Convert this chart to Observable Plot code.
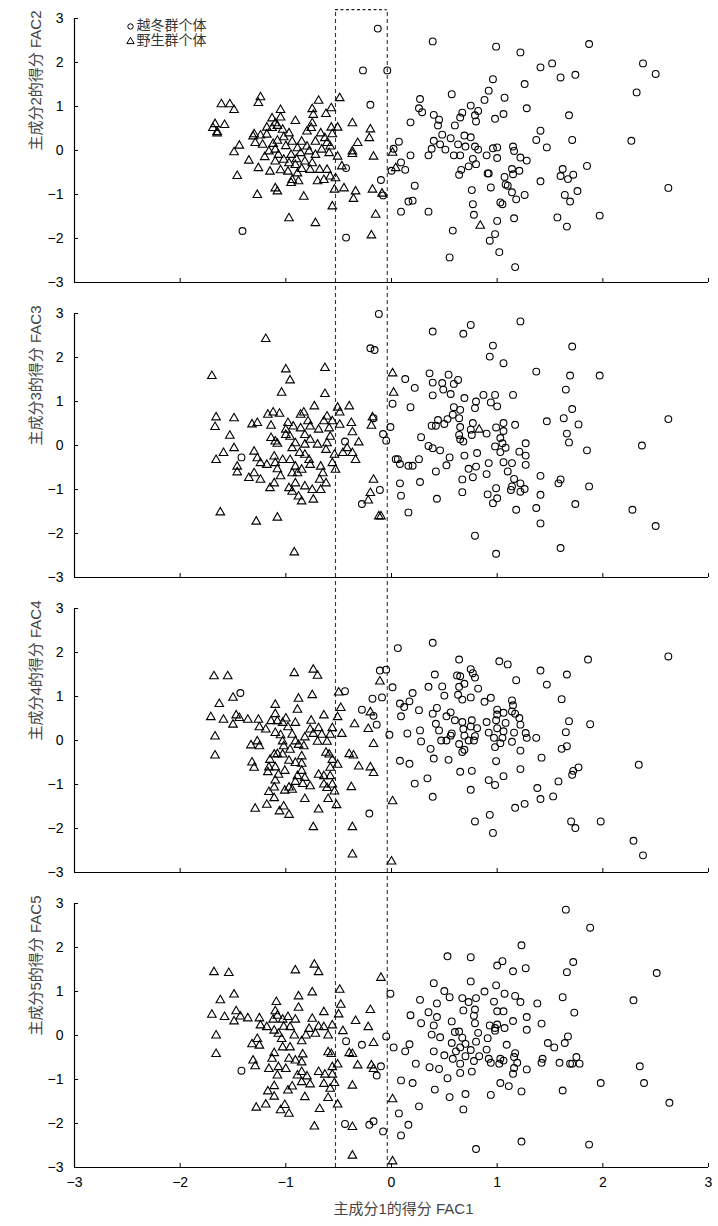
<!DOCTYPE html>
<html><head><meta charset="utf-8">
<script src="https://cdn.jsdelivr.net/npm/d3@7"></script>
<script src="https://cdn.jsdelivr.net/npm/@observablehq/plot@0.6"></script>
<style>body{margin:0;background:#fff}#chart svg{display:block}</style>
</head><body><div id="chart"></div>
<script>
const panels = ["FAC2", "FAC3", "FAC4", "FAC5"];
const yLabels = ["主成分2的得分 FAC2", "主成分3的得分 FAC3", "主成分4的得分 FAC4", "主成分5的得分 FAC5"];
const xLabel = "主成分1的得分 FAC1";
const legendLabels = ["越冬群个体", "野生群个体"];
const xTicks = [-3, -2, -1, 0, 1, 2, 3];
const yTicks = [-3, -2, -1, 0, 1, 2, 3];
const boxX = [-0.53, -0.04];
const boxTop = 3.2;

const fac2Circles = [[-0.20,1.04],[-0.43,-0.40],[-0.10,-0.67],[-0.08,-1.02],[-1.41,-1.83],[-0.43,-1.98],[0,-0.46],[-0.13,2.77],[-0.27,1.82],[-0.04,1.82],
[0.39,2.48],[0.99,2.36],[1.22,2.23],[1.87,2.42],[1.52,1.98],[1.41,1.89],[1.60,1.66],[1.74,1.72],[2.38,1.98],[2.50,1.74],[2.32,1.32],[0.96,1.62],[0.92,1.36],[0.88,1.15],[1.26,1.51],[1.07,1.20],[1.28,0.96],[0.57,1.28],[0.27,1.17],[0.26,0.96],[0.29,0.87],[0.18,0.64],[0.40,0.81],[0.45,0.70],[0.44,0.57],[0.60,0.57],[0.65,0.75],[0.67,0.86],[0.75,1.02],[0.82,0.90],[0.79,0.80],[0.80,0.66],[0.98,0.72],[1.06,0.83],[1.68,0.80],[1.41,0.45],[1.37,0.24],[1.47,0.07],[1.71,0.24],[2.27,0.22],[0.07,0.20],[0.02,0.04],[0.48,0.36],[0.40,0.22],[0.46,0.14],[0.38,0.04],[0.56,0.28],[0.51,0.02],[0.63,0.14],[0.70,0.09],[0.69,0.34],[0.75,0.30],[0.79,0.09],[0.82,0.02],[0.59,-0.11],[0.65,-0.11],[0.35,-0.11],[0.18,-0.11],[0.09,-0.27],[0.13,-0.44],[0.77,-0.19],[0.80,-0.31],[0.73,-0.36],[0.66,-0.44],[0.64,-0.55],[0.90,-0.11],[0.96,0.05],[1.00,0.07],[1.00,-0.17],[0.91,-0.52],[0.92,-0.52],[1.15,0.09],[1.16,-0.01],[1.22,-0.16],[1.28,-0.23],[1.21,-0.46],[1.14,-0.42],[1.15,-0.54],[1.07,-0.60],[1.08,-0.77],[1.10,-0.80],[1.14,-0.95],[1.18,-1.11],[1.26,-1.01],[1.41,-0.70],[1.62,-0.42],[1.60,-0.58],[1.67,-0.65],[1.72,-0.55],[1.85,-0.35],[1.64,-1.01],[1.69,-1.16],[1.76,-0.92],[2.62,-0.85],[1.97,-1.48],[1.57,-1.52],[1.66,-1.73],[1.16,-1.54],[1.00,-1.60],[0.98,-1.90],[0.93,-2.05],[1.02,-2.31],[1.17,-2.65],[0.55,-2.43],[0.58,-1.82],[0.76,-0.90],[0.77,-1.22],[0.78,-1.46],[0.94,-0.84],[1.03,-1.18],[1.05,-1.22],[0.35,-1.39],[0.22,-0.80],[0.16,-1.16],[0.20,-1.14],[0.09,-1.39]];
const fac2Triangles = [[-1.61,1.05],[-1.53,1.05],[-1.49,0.92],[-1.24,1.21],[-1.26,1.08],[-1.67,0.60],[-1.58,0.58],[-1.69,0.51],[-1.65,0.42],[-1.65,0.39],[-1.49,-0.04],[-1.44,0.11],[-1.35,-0.23],[-1.26,-0.40],[-1.46,-0.58],[-1.27,-1.01],[-1.15,-0.48],[-1.30,0.37],[-1.31,0.32],[-1.24,0.34],[-1.18,0.36],[-1.29,0.17],[-1.22,0.13],[-1.16,-0.02],[-1.13,0.73],[-1.05,0.92],[-1.05,0.75],[-1.10,0.62],[-1.08,0.56],[-1.13,0.51],[-1.18,0.52],[-1.03,0.47],[-0.97,0.39],[-1.02,0.30],[-0.94,0.20],[-1.08,0.22],[-1.10,0.02],[-1.07,-0.10],[-1.02,-0.21],[-1.10,-0.25],[-0.97,-0.29],[-0.98,-0.48],[-0.91,-0.33],[-0.94,-0.67],[-0.88,-0.70],[-0.95,-0.74],[-1.10,-0.86],[-1.08,-0.93],[-0.83,-1.05],[-0.97,-1.54],[-0.72,-1.65],[-0.91,0.67],[-0.85,0.20],[-0.89,0.05],[-0.86,-0.06],[-0.80,0.09],[-0.78,-0.02],[-0.82,-0.25],[-0.75,-0.29],[-0.85,-0.42],[-0.89,-0.52],[-0.77,-0.44],[-0.80,0.43],[-0.75,0.62],[-0.76,0.51],[-0.74,0.81],[-0.75,0.94],[-0.69,1.13],[-0.62,0.83],[-0.57,0.96],[-0.49,1.19],[-0.67,0.39],[-0.63,0.28],[-0.61,0.17],[-0.58,0.09],[-0.66,0.02],[-0.59,-0.06],[-0.51,-0.14],[-0.57,0.52],[-0.51,0.52],[-0.56,0.37],[-0.68,-0.44],[-0.61,-0.44],[-0.58,-0.59],[-0.64,-0.67],[-0.70,-0.70],[-0.53,-0.63],[-0.54,-0.89],[-0.56,-1.27],[-0.45,-0.86],[-0.47,-0.36],[-0.37,0.62],[-0.32,0.17],[-0.37,-0.02],[-0.37,-0.08],[-0.34,-0.93],[-0.36,-1.10],[-0.20,0.48],[-0.21,0.28],[-0.17,-0.14],[-0.18,-0.89],[-0.15,-1.46],[-0.19,-1.93],[0.01,-0.05],[0.04,-0.40],[0.84,-1.71],[-0.09,-0.98],[-1.00,0.10],[-0.95,-0.10],[-1.05,-0.45],[-0.90,-0.20],[-0.72,0.20],[-0.72,-0.10],[-1.20,-0.15],[-1.12,0.15]];

const fac3Circles = [[-0.20,2.21],[-0.16,2.17],[-1.42,-0.27],[-0.44,0.09],[-0.17,0.62],[-0.01,0.42],[-0.08,0.26],[-0.05,0.11],[0.01,0.95],[-0.11,-1.01],[-0.28,-1.33],[0.04,-0.31],[-0.12,2.99],
[0.39,2.59],[0.68,2.54],[0.75,2.74],[1.22,2.82],[0.96,2.27],[0.93,2.02],[1.06,1.87],[1.71,2.25],[1.37,1.68],[1.69,1.59],[1.97,1.59],[1.65,1.27],[1.71,0.83],[1.63,0.62],[1.77,0.48],[1.47,0.55],[1.66,0.27],[1.68,0.07],[1.85,-0.11],[2.62,0.60],[2.37,0.00],[2.28,-1.46],[2.50,-1.83],[1.87,-0.93],[1.74,-1.33],[1.60,-0.77],[1.58,-0.86],[1.60,-2.33],[1.41,-1.77],[1.37,-1.42],[1.41,-0.69],[1.41,-1.12],[1.18,-1.46],[0.99,-2.46],[0.79,-2.05],[0.13,1.51],[0.22,1.31],[0.18,0.87],[0.36,1.64],[0.39,1.43],[0.48,1.42],[0.54,1.61],[0.63,1.49],[0.59,1.40],[0.49,1.27],[0.39,1.14],[0.56,1.17],[0.69,1.08],[0.80,1.00],[0.87,1.15],[0.98,1.15],[0.94,0.98],[1.00,0.89],[1.15,1.15],[0.79,0.85],[0.59,0.87],[0.65,0.81],[0.58,0.70],[0.64,0.62],[0.53,0.60],[0.44,0.58],[0.50,0.49],[0.42,0.45],[0.38,0.45],[0.65,0.42],[0.77,0.51],[0.75,0.36],[0.76,0.24],[0.90,0.27],[0.64,0.24],[0.65,0.14],[0.68,0.09],[0.28,0.19],[0.99,0.41],[1.06,0.51],[1.06,0.33],[1.03,0.17],[1.05,0.05],[0.98,-0.02],[1.08,-0.05],[1.03,-0.15],[1.17,0.47],[1.27,0.05],[1.21,-0.14],[1.27,-0.23],[1.27,-0.44],[1.14,-0.40],[1.06,-0.38],[1.10,-0.59],[1.16,-0.76],[1.22,-0.86],[1.26,-0.99],[1.22,-1.05],[1.13,-1.01],[1.14,-0.93],[0.99,-0.97],[1.00,-1.20],[0.96,-1.31],[0.91,-1.11],[0.92,-0.40],[0.90,-0.65],[0.81,-0.17],[0.69,-0.23],[0.73,-0.53],[0.80,-0.48],[0.77,-0.72],[0.67,-0.77],[0.67,-1.06],[0.55,-0.27],[0.52,-0.45],[0.42,-0.59],[0.35,-0.01],[0.39,-0.06],[0.46,-0.11],[0.43,-1.21],[0.27,-0.83],[0.26,-0.31],[0.16,-0.46],[0.20,-0.46],[0.08,-0.42],[0.06,-0.31],[0.08,-0.86],[0.09,-1.14],[0.16,-1.52]];
const fac3Triangles = [[-1.19,2.42],[-1.70,1.58],[-1.00,1.73],[-0.96,1.48],[-1.04,1.20],[-0.63,1.76],[-0.63,1.17],[-0.73,0.89],[-0.51,0.86],[-0.40,0.89],[-1.66,0.64],[-1.49,0.62],[-1.67,0.42],[-1.53,0.22],[-1.49,-0.06],[-1.59,-0.17],[-1.66,-0.33],[-1.46,-0.48],[-1.46,-0.61],[-1.35,-0.74],[-1.32,0.48],[-1.27,0.51],[-1.17,0.70],[-1.12,0.75],[-1.06,0.72],[-1.14,0.45],[-1.30,-0.14],[-1.27,-0.29],[-1.24,-0.40],[-1.30,-0.63],[-1.24,-0.78],[-1.15,-0.97],[-1.11,-0.86],[-1.18,-0.44],[-1.10,0.09],[-1.14,0.17],[-1.08,0.04],[-1.11,-0.25],[-1.10,-0.40],[-1.08,-0.54],[-1.05,-0.70],[-1.03,-0.33],[-1.00,0.36],[-0.98,0.51],[-1.00,0.24],[-0.96,0.20],[-0.93,0.43],[-0.91,0.05],[-0.94,-0.06],[-0.96,-0.33],[-0.91,-0.48],[-0.94,-0.63],[-0.97,-0.97],[-0.94,-1.05],[-0.91,-0.86],[-0.88,-1.16],[-0.85,-1.27],[-0.74,-1.23],[-0.82,-0.93],[-0.75,-1.01],[-0.86,0.70],[-0.83,0.75],[-0.86,0.39],[-0.79,0.55],[-0.77,0.43],[-0.82,0.24],[-0.77,0.13],[-0.82,0.02],[-0.87,-0.17],[-0.82,-0.21],[-0.78,-0.33],[-0.77,-0.44],[-0.85,-0.55],[-0.89,-0.63],[-0.70,0.02],[-0.69,0.36],[-0.64,0.55],[-0.61,0.66],[-0.56,0.55],[-0.59,0.39],[-0.58,0.20],[-0.61,0.05],[-0.62,-0.10],[-0.67,-0.48],[-0.65,-0.63],[-0.68,-0.78],[-0.62,-0.86],[-0.67,-1.01],[-0.56,-0.40],[-0.53,-0.55],[-0.54,-0.21],[-0.49,0.47],[-0.49,0.75],[-0.46,-0.17],[-0.42,-0.06],[-0.38,0.51],[-0.37,0.30],[-0.37,-0.17],[-0.34,-0.33],[-0.31,0.07],[-0.18,0.64],[-0.19,0.45],[-0.17,-0.78],[-0.20,-1.08],[-0.22,-1.25],[-0.12,-1.61],[-1.62,-1.52],[-1.28,-1.73],[-1.08,-1.64],[-0.92,-2.43],[0.01,1.64],[0.02,1.20],[0.83,0.36],[-0.10,-1.61]];

const fac4Circles = [[-1.43,1.08],[-0.44,1.12],[-0.28,0.70],[-0.18,0.95],[-0.09,0.98],[-0.11,1.59],[-0.05,1.61],[-0.17,0.56],[-0.14,0.36],[-0.02,0.13],[0.01,1.21],[-0.21,-1.66],
[0.06,2.10],[0.39,2.22],[0.64,1.84],[1.02,1.80],[1.10,1.73],[1.41,1.59],[1.66,1.50],[1.86,1.84],[2.62,1.91],[0.41,1.50],[0.62,1.48],[0.65,1.46],[0.75,1.62],[0.77,1.53],[0.79,1.43],[0.69,1.29],[0.64,1.22],[0.63,1.04],[0.67,0.93],[0.75,0.98],[0.82,1.18],[0.48,1.23],[0.35,1.22],[0.50,1.02],[0.20,1.08],[0.17,0.89],[0.08,0.84],[0.12,0.76],[0.26,0.69],[0.09,0.55],[1.18,1.37],[1.47,1.27],[1.61,0.94],[0.94,0.97],[0.88,0.88],[1.14,0.91],[1.15,0.80],[1.00,0.70],[1.00,0.59],[1.06,0.63],[1.14,0.66],[1.17,0.61],[1.21,0.51],[0.99,0.46],[1.08,0.40],[1.22,0.36],[0.90,0.42],[1.00,0.28],[0.92,0.18],[1.06,0.21],[1.16,0.18],[1.27,0.17],[1.28,0.06],[1.37,0.06],[0.97,0.06],[1.05,0.06],[1.03,-0.06],[0.98,-0.15],[1.14,-0.03],[1.22,-0.23],[1.68,0.44],[1.88,0.37],[1.65,0.19],[1.66,-0.13],[1.61,-0.19],[1.42,-0.39],[2.34,-0.55],[1.77,-0.61],[1.72,-0.69],[1.71,-0.78],[1.58,-0.93],[1.53,-1.27],[1.41,-1.33],[1.38,-1.08],[1.26,-1.44],[1.17,-1.53],[1.98,-1.84],[1.70,-1.84],[1.74,-1.99],[2.29,-2.28],[2.38,-2.61],[0.43,0.74],[0.56,0.64],[0.52,0.55],[0.39,0.61],[0.60,0.46],[0.42,0.38],[0.67,0.42],[0.76,0.46],[0.75,0.32],[0.81,0.28],[0.68,0.26],[0.45,0.23],[0.57,0.16],[0.56,0.11],[0.69,0.11],[0.79,0.10],[0.73,0.00],[0.78,0.00],[0.47,0.00],[0.52,0.00],[0.64,-0.08],[0.69,-0.21],[0.67,-0.26],[0.37,-0.19],[0.27,0.23],[0.15,0.16],[0.28,-0.02],[0.08,-0.46],[0.17,-0.53],[0.40,-0.41],[0.54,-0.44],[0.65,-0.71],[0.76,-0.69],[0.99,-0.47],[1.22,-0.65],[1.06,-0.81],[0.92,-0.90],[0.98,-1.01],[0.75,-1.12],[0.34,-0.86],[0.22,-0.98],[0.39,-1.28],[0.79,-1.84],[0.93,-1.69],[0.96,-2.10]];
const fac4Triangles = [[-1.68,1.46],[-1.55,1.46],[-0.92,1.53],[-0.74,1.61],[-0.70,1.47],[-1.50,0.97],[-1.63,0.83],[-0.88,0.95],[-0.75,1.03],[-1.10,0.81],[-0.89,0.70],[-0.50,1.09],[-0.48,0.74],[-1.71,0.53],[-1.59,0.47],[-1.47,0.57],[-1.44,0.51],[-1.50,0.36],[-1.36,0.47],[-1.26,0.47],[-1.25,0.30],[-1.19,0.25],[-1.10,0.60],[-1.14,0.44],[-1.08,0.44],[-1.03,0.40],[-1.00,0.50],[-0.98,0.30],[-0.91,0.40],[-1.10,0.17],[-1.05,0.12],[-1.03,-0.02],[-1.02,-0.13],[-1.67,0.09],[-1.67,-0.34],[-1.33,-0.11],[-1.27,-0.02],[-1.25,-0.13],[-0.94,0.13],[-0.91,-0.02],[-0.88,-0.10],[-0.83,-0.13],[-0.82,0.07],[-0.77,0.25],[-0.76,0.45],[-0.74,0.15],[-0.69,0.28],[-0.64,0.57],[-0.66,0.13],[-0.70,-0.03],[-0.61,-0.03],[-0.58,0.13],[-0.56,0.28],[-0.51,0.53],[-0.47,0.15],[-0.35,0.37],[-0.22,0.26],[-0.20,0.64],[-0.11,1.34],[-0.17,-0.08],[-0.96,-0.21],[-1.03,-0.32],[-1.11,-0.32],[-1.15,-0.44],[-1.08,-0.31],[-1.32,-0.50],[-1.30,-0.62],[-1.16,-0.61],[-1.17,-0.72],[-1.10,-0.61],[-1.07,-0.78],[-1.01,-0.69],[-0.97,-0.46],[-0.91,-0.51],[-0.85,-0.36],[-0.85,-0.53],[-0.85,-0.69],[-0.89,-0.81],[-0.82,-0.85],[-0.77,-1.04],[-0.84,-0.99],[-0.91,-0.94],[-0.97,-1.07],[-0.94,-1.12],[-1.10,-0.91],[-1.11,-1.07],[-1.16,-1.17],[-1.11,-1.31],[-1.01,-1.14],[-1.18,-1.46],[-1.29,-1.55],[-1.02,-1.50],[-1.06,-1.61],[-0.97,-1.69],[-0.82,-1.33],[-0.69,-1.57],[-0.74,-1.97],[-0.62,-0.28],[-0.59,-0.32],[-0.56,-0.44],[-0.51,-0.55],[-0.58,-0.62],[-0.69,-0.78],[-0.64,-0.81],[-0.58,-0.81],[-0.64,-1.00],[-0.56,-1.00],[-0.61,-1.08],[-0.54,-1.16],[-0.60,-1.33],[-0.52,-1.47],[-0.40,-0.31],[-0.36,-0.34],[-0.31,-0.59],[-0.38,-1.06],[-0.37,-1.97],[-0.37,-2.59],[-0.20,-0.61],[-0.17,-0.74],[0.01,-1.38],[0.00,-2.75]];

const fac5Circles = [[-1.42,-0.80],[-0.43,-0.13],[-0.28,-0.21],[-0.05,-0.02],[-0.01,0.95],[0.02,-0.27],[-0.10,-0.70],[-0.14,-0.91],[-0.44,-2.01],[-0.21,-2.03],[-0.17,-1.95],[-0.08,-2.18],
[1.65,2.86],[1.88,2.45],[1.23,2.05],[0.53,1.80],[0.75,1.78],[1.00,1.59],[1.05,1.69],[1.15,1.46],[1.27,1.53],[1.72,1.67],[1.66,1.44],[2.51,1.42],[2.29,0.80],[1.62,0.87],[1.73,0.52],[0.40,1.19],[0.75,1.23],[0.50,1.01],[0.55,0.87],[0.27,0.81],[0.43,0.73],[0.18,0.46],[0.35,0.53],[0.43,0.42],[0.40,0.23],[0.28,0.28],[0.57,0.32],[0.67,0.85],[0.73,0.76],[0.80,0.85],[0.88,1.00],[0.99,1.14],[1.07,0.95],[0.97,0.77],[0.68,0.57],[0.79,0.59],[0.78,0.45],[0.79,0.28],[1.00,0.55],[1.06,0.55],[1.17,0.90],[1.22,0.76],[1.38,0.73],[1.28,0.42],[1.28,0.13],[1.42,0.27],[1.15,0.33],[1.07,0.17],[1.00,0.25],[0.98,0.17],[0.93,0.23],[0.98,0.11],[0.82,0.06],[0.91,-0.06],[0.80,-0.14],[0.64,0.09],[0.60,0.08],[0.67,-0.05],[0.57,-0.17],[0.70,-0.19],[0.65,-0.27],[0.61,-0.36],[0.75,-0.33],[0.70,-0.47],[0.83,-0.47],[0.78,-0.58],[0.58,-0.53],[0.50,-0.45],[0.40,-0.36],[0.46,-0.04],[0.38,0.02],[0.65,-0.64],[0.76,-0.82],[0.65,-0.85],[0.53,-0.97],[0.45,-0.76],[0.36,-0.72],[0.23,-0.64],[0.13,-0.36],[0.17,-0.20],[0.90,-0.32],[0.92,-0.53],[0.94,-0.62],[1.02,-0.64],[1.03,-0.53],[1.06,-0.57],[1.09,-0.21],[1.17,-0.40],[1.16,-0.49],[1.19,-0.62],[1.16,-0.74],[1.15,-0.87],[1.28,-0.77],[1.43,-0.53],[1.42,-0.62],[1.48,-0.17],[1.54,-0.27],[1.64,-0.17],[1.67,-0.02],[1.59,-0.62],[1.69,-0.64],[1.71,-0.64],[1.78,-0.64],[1.75,-0.49],[2.35,-0.70],[2.39,-1.08],[1.98,-1.08],[1.62,-1.25],[1.23,-1.27],[1.11,-1.15],[1.03,-1.08],[0.94,-1.35],[0.70,-1.33],[0.55,-1.40],[0.68,-1.68],[0.41,-1.23],[0.20,-1.08],[0.09,-1.02],[0.26,-1.61],[0.07,-1.77],[0.16,-2.03],[0.09,-2.27],[0.80,-2.58],[1.23,-2.41],[1.87,-2.48],[2.63,-1.53]];
const fac5Triangles = [[-1.68,1.44],[-1.54,1.42],[-0.91,1.48],[-0.73,1.61],[-0.69,1.44],[-0.10,1.31],[-1.49,0.93],[-1.62,0.80],[-1.70,0.47],[-1.58,0.42],[-1.49,0.32],[-1.47,0.55],[-1.43,0.43],[-1.36,0.39],[-1.25,0.39],[-1.24,0.23],[-1.18,0.19],[-1.09,0.76],[-1.10,0.55],[-1.08,0.45],[-1.12,0.36],[-1.03,0.36],[-0.98,0.42],[-0.91,0.36],[-1.11,0.11],[-1.07,0.04],[-1.04,-0.08],[-1.02,0.20],[-0.96,0.19],[-0.92,0.00],[-0.88,0.89],[-0.75,0.98],[-0.88,0.63],[-0.75,0.38],[-0.78,0.15],[-0.72,0.04],[-0.81,0.00],[-0.85,-0.13],[-0.69,0.20],[-0.64,0.53],[-0.64,0.19],[-0.60,0.00],[-0.56,0.23],[-0.50,0.48],[-0.48,0.70],[-0.49,1.04],[-0.46,0.10],[-0.34,0.33],[-0.22,0.19],[-0.20,0.58],[-0.17,-0.17],[-1.66,0.00],[-1.66,-0.42],[-1.32,-0.20],[-1.27,-0.08],[-1.25,-0.23],[-1.31,-0.57],[-1.29,-0.70],[-1.16,-0.76],[-1.13,-0.53],[-1.11,-0.40],[-1.07,-0.72],[-1.08,-0.91],[-1.03,-0.27],[-0.96,-0.27],[-0.97,-0.53],[-1.00,-0.76],[-0.91,-0.57],[-0.84,-0.43],[-0.85,-0.61],[-0.85,-0.83],[-0.89,-0.91],[-0.80,-0.93],[-0.77,-1.11],[-0.85,-1.06],[-0.94,-1.16],[-0.98,-1.25],[-1.11,-1.15],[-1.17,-1.27],[-1.11,-1.39],[-0.82,-1.40],[-1.28,-1.64],[-1.19,-1.57],[-1.01,-1.58],[-1.05,-1.70],[-0.97,-1.78],[-0.68,-1.67],[-0.73,-2.07],[-0.60,-0.38],[-0.57,-0.42],[-0.51,-0.66],[-0.56,-0.72],[-0.69,-0.83],[-0.63,-0.89],[-0.56,-0.89],[-0.64,-1.10],[-0.58,-1.21],[-0.54,-1.08],[-0.60,-1.42],[-0.51,-1.57],[-0.40,-0.40],[-0.37,-0.42],[-0.32,-0.68],[-0.37,-1.14],[-0.37,-2.08],[-0.37,-2.73],[-0.19,-0.68],[-0.17,-0.76],[0.01,-1.45],[0.01,-2.86]];

const sets = {
  FAC2: [fac2Circles, fac2Triangles],
  FAC3: [fac3Circles, fac3Triangles],
  FAC4: [fac4Circles, fac4Triangles],
  FAC5: [fac5Circles, fac5Triangles]
};

// layout
const W = 718, H = 1226;
const mt = 17, mb = 59, ml = 74, mr = 10;
const panelH = 264, gapH = 31;
const pad = gapH / (panelH + gapH);
const pxPerY = panelH / (yTicks[yTicks.length - 1] - yTicks[0]);
const pxPerX = (W - ml - mr) / (xTicks[xTicks.length - 1] - xTicks[0]);
const gapUnits = gapH / pxPerY;
const tickLen = 4;
const y0 = yTicks[0], x0 = xTicks[0], yMax = yTicks[yTicks.length - 1];

const circles = [], triangles = [];
panels.forEach(p => {
  const [c, t] = sets[p];
  c.forEach(([x, y]) => circles.push({panel: p, x, y}));
  t.forEach(([x, y]) => triangles.push({panel: p, x, y}));
});
const boxRows = [];
panels.forEach((p, i) => boxX.forEach(x => boxRows.push({panel: p, x, y2: i === 0 ? boxTop : yMax + gapUnits})));
const topRow = [{panel: panels[0], y: boxTop}];
const yLabelRows = panels.map((p, i) => ({panel: p, label: yLabels[i]}));
const xLabelRow = [{panel: panels[panels.length - 1], label: xLabel}];
const legendRow = [{panel: panels[0]}];

const font = '"Liberation Sans","Noto Sans CJK SC",Arial,sans-serif';
const fmt = d3.format("d");

const chart = Plot.plot({
  width: W, height: H,
  marginTop: mt, marginBottom: mb, marginLeft: ml, marginRight: mr,
  style: {fontFamily: font, fontSize: "14px", color: "#000", background: "#fff"},
  x: {domain: [x0, xTicks[xTicks.length - 1]]},
  y: {domain: [y0, yMax]},
  fy: {domain: panels, axis: null, paddingInner: pad, paddingOuter: 0},
  marks: [
    Plot.ruleX(boxRows, {x: "x", y1: y0, y2: "y2", fy: "panel", stroke: "#333", strokeWidth: 1.1, strokeDasharray: "4,3"}),
    Plot.ruleY(topRow, {y: "y", x1: boxX[0], x2: boxX[1], fy: "panel", stroke: "#222", strokeWidth: 1.3, strokeDasharray: "3,2.5"}),
    Plot.dot(circles, {x: "x", y: "y", fy: "panel", r: 3.4, stroke: "#000", strokeWidth: 1.1, fill: "none"}),
    Plot.dot(triangles, {x: "x", y: "y", fy: "panel", symbol: "triangle", r: 3.2, stroke: "#000", strokeWidth: 1.1, fill: "none"}),
    Plot.ruleX([x0], {stroke: "#000", strokeWidth: 1.2}),
    Plot.ruleY([y0], {stroke: "#000", strokeWidth: 1.2}),
    Plot.ruleX(xTicks, {x: d => d, y1: y0, y2: y0 + tickLen / pxPerY, stroke: "#000"}),
    Plot.ruleY(yTicks, {y: d => d, x1: x0, x2: x0 + tickLen / pxPerX, stroke: "#000"}),
    Plot.axisY({ticks: yTicks, tickSize: 0, tickPadding: 11, label: null, fontSize: 14, tickFormat: fmt}),
    Plot.axisX({ticks: xTicks, tickSize: 0, tickPadding: 10, label: null, fontSize: 14, tickFormat: fmt}),
    Plot.text(yLabelRows, {fy: "panel", text: "label", frameAnchor: "left", rotate: -90, dx: -38, fill: "#444", fontSize: 15}),
    Plot.text(xLabelRow, {fy: "panel", text: "label", frameAnchor: "bottom", dy: 46, dx: 12, fill: "#444", fontSize: 15}),
    Plot.dot(legendRow, {fy: "panel", frameAnchor: "top-left", dx: 56, dy: 8, r: 2.7, stroke: "#000", strokeWidth: 1, fill: "none"}),
    Plot.dot(legendRow, {fy: "panel", frameAnchor: "top-left", dx: 56, dy: 23, symbol: "triangle", r: 2.7, stroke: "#000", strokeWidth: 1, fill: "none"}),
    Plot.text(legendRow, {fy: "panel", text: () => legendLabels[0], frameAnchor: "top-left", dx: 62, dy: 7, lineAnchor: "middle", textAnchor: "start", fontSize: 14, fill: "#333"}),
    Plot.text(legendRow, {fy: "panel", text: () => legendLabels[1], frameAnchor: "top-left", dx: 62, dy: 22, lineAnchor: "middle", textAnchor: "start", fontSize: 14, fill: "#333"})
  ]
});
document.getElementById("chart").append(chart);
</script>
</body></html>
